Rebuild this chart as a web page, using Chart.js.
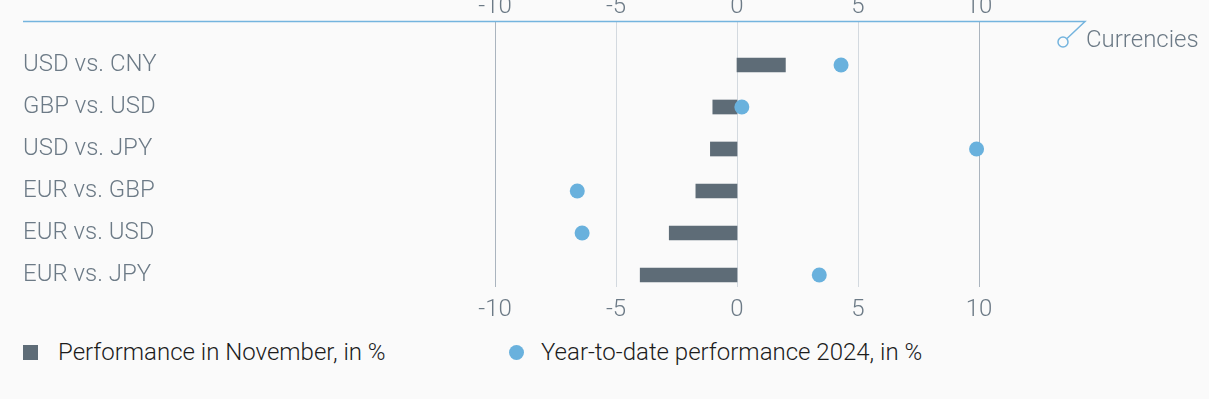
<!DOCTYPE html>
<html>
<head>
<meta charset="utf-8">
<script src="https://cdn.jsdelivr.net/npm/chart.js@4"></script>
<style>
  body { margin: 0; background: #fafafa; font-family: Roboto, sans-serif; }
  #wrap { position: absolute; left: 0; top: -8px; width: 1209px; height: 340px; }
  .legend { position: absolute; top: 338px; font-size: 24px; font-weight: 300; color: #1c1c1c; white-space: nowrap; }
  .legend span.box { position: absolute; top: 7px; }
  .legend span.txt { position: absolute; top: 0; line-height: 28px; }
</style>
</head>
<body>
<div id="wrap"><canvas id="fxChart"></canvas></div>
<div class="legend" id="legend"></div>
<script>
const pairs = ["USD vs. CNY", "GBP vs. USD", "USD vs. JPY", "EUR vs. GBP", "EUR vs. USD", "EUR vs. JPY"];
const november = [2.0, -1.0, -1.1, -1.7, -2.8, -4.0];
const ytd2024 = [4.3, 0.2, 9.9, -6.6, -6.4, 3.4];
const xTicks = [-10, -5, 0, 5, 10];

const slate = "#5e6c77";
const sky = "#69b1dd";
const tickColor = "#6c7a86";
const tickFont = { family: "Roboto", size: 24, weight: "300" };

// grid lines + top rule with the "Currencies" tag
const decor = {
    id: "decor",
    beforeDatasetsDraw(chart) {
        const ctx = chart.ctx;
        const x = chart.scales.x;
        ctx.save();
        xTicks.forEach(t => {
            const px = Math.round(x.getPixelForValue(t)) + 0.5;
            ctx.strokeStyle = Math.abs(t) === 10 ? "#aab4be" : "#d3d9df";
            ctx.lineWidth = 1;
            ctx.beginPath();
            ctx.moveTo(px, 30);
            ctx.lineTo(px, 295);
            ctx.stroke();
        });
        ctx.strokeStyle = "#74b4de";
        ctx.lineWidth = 1.5;
        ctx.beginPath();
        ctx.moveTo(23, 29.5);
        ctx.lineTo(1085, 29.5);
        ctx.lineTo(1067, 46.5);
        ctx.stroke();
        ctx.beginPath();
        ctx.arc(1063, 50, 5, 0, Math.PI * 2);
        ctx.stroke();
        ctx.fillStyle = tickColor;
        ctx.font = "300 24px Roboto";
        ctx.textBaseline = "middle";
        ctx.fillText("Currencies", 1086, 49);
        ctx.restore();
    }
};

const chart = new Chart(document.getElementById("fxChart"), {
    type: "bar",
    data: {
        labels: pairs,
        datasets: [{
            type: "line",
            label: "Year-to-date performance 2024, in %",
            data: ytd2024,
            xAxisID: "x",
            yAxisID: "y",
            showLine: false,
            pointRadius: 7.5,
            pointHoverRadius: 7.5,
            pointBackgroundColor: sky,
            pointBorderWidth: 0,
            borderColor: sky,
            backgroundColor: sky,
            clip: false,
            order: 0
        }, {
            label: "Performance in November, in %",
            data: november,
            xAxisID: "x",
            yAxisID: "y",
            backgroundColor: slate,
            barThickness: 14,
            order: 1
        }]
    },
    options: {
        indexAxis: "y",
        responsive: true,
        maintainAspectRatio: false,
        animation: false,
        layout: { padding: { left: 23, right: 230, top: 0, bottom: 0 } },
        plugins: { legend: { display: false }, tooltip: { enabled: false } },
        scales: {
            x: {
                type: "linear",
                position: "bottom",
                min: -10,
                max: 10,
                grid: { display: false, drawTicks: false },
                border: { display: false },
                ticks: { stepSize: 5, color: tickColor, font: tickFont, padding: 0 },
                afterFit: s => { s.height = 36; }
            },
            xTop: {
                type: "linear",
                axis: "x",
                position: "top",
                min: -10,
                max: 10,
                grid: { display: false, drawTicks: false },
                border: { display: false },
                ticks: { stepSize: 5, color: tickColor, font: tickFont, padding: 23 },
                afterFit: s => { s.height = 52; }
            },
            y: {
                type: "category",
                grid: { display: false, drawTicks: false },
                border: { display: false },
                ticks: { color: tickColor, font: tickFont, crossAlign: "far" },
                afterFit: s => { s.width = 472; }
            }
        }
    },
    plugins: [decor]
});

// legend built from the datasets
const legend = document.getElementById("legend");
const spots = [
    { ds: chart.data.datasets[1], box: 23, txt: 58, round: false },
    { ds: chart.data.datasets[0], box: 509, txt: 541, round: true }
];
spots.forEach(s => {
    const b = document.createElement("span");
    b.className = "box";
    b.style.left = s.box + "px";
    b.style.width = "15px";
    b.style.height = "15px";
    b.style.background = s.ds.backgroundColor;
    if (s.round) b.style.borderRadius = "50%";
    const t = document.createElement("span");
    t.className = "txt";
    t.style.left = s.txt + "px";
    t.textContent = s.ds.label;
    legend.appendChild(b);
    legend.appendChild(t);
});
</script>
</body>
</html>
